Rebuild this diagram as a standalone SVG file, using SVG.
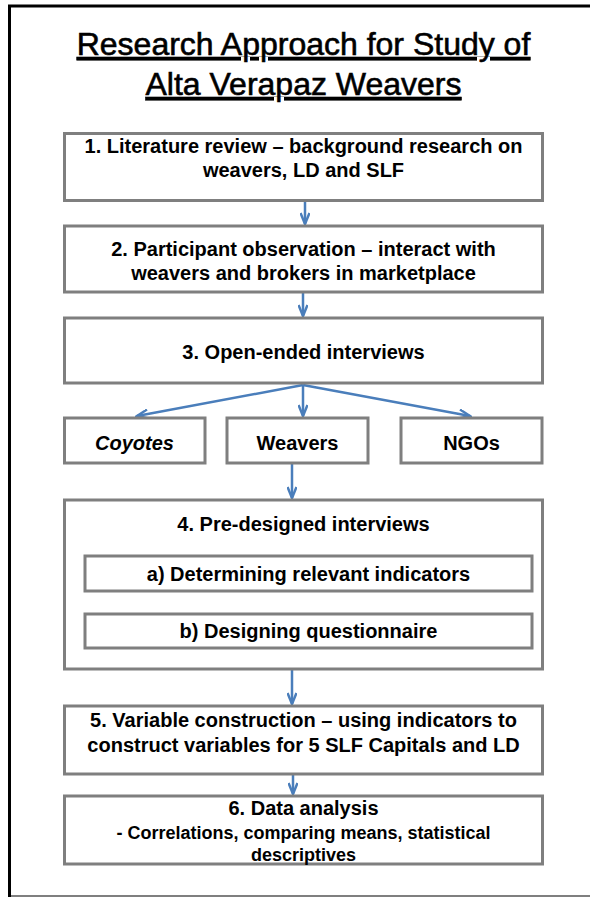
<svg xmlns="http://www.w3.org/2000/svg" width="590" height="897" viewBox="0 0 590 897">
<defs>
<style>
.box{fill:#fff;stroke:#7f7f7f;stroke-width:3}
.t{font-family:"Liberation Sans",Arial,sans-serif;font-weight:bold;font-size:20px;fill:#000;text-anchor:middle}
.s{font-size:18px}
.title{font-family:"Liberation Sans",Arial,sans-serif;font-size:32px;fill:#000;stroke:#000;stroke-width:0.6;text-anchor:middle;text-decoration:underline}
.c{fill:none;stroke:#4a7ebb;stroke-width:2.5}
</style>
<marker id="ah" viewBox="0 0 14 10" refX="12" refY="5" markerWidth="14" markerHeight="10" markerUnits="userSpaceOnUse" orient="auto">
<path d="M1,0.5 L12,5 L1,9.5" fill="none" stroke="#4a7ebb" stroke-width="2.5"/>
</marker>
</defs>
<rect x="0" y="0" width="590" height="897" fill="#fff"/>
<g id="frame">
<path d="M600,6 L9.5,6 L9.5,897" fill="none" stroke="#000" stroke-width="3"/>
<line x1="11" y1="896" x2="590" y2="896" stroke="#555" stroke-width="1.5"/>
</g>
<g id="title">
<text class="title" x="303.5" y="55">Research Approach for Study of</text>
<text class="title" x="303.5" y="95">Alta Verapaz Weavers</text>
</g>
<g id="connectors">
<line class="c" x1="305" y1="201" x2="305" y2="224" marker-end="url(#ah)"/>
<line class="c" x1="303" y1="293" x2="303" y2="316" marker-end="url(#ah)"/>
<line class="c" x1="303" y1="385" x2="137" y2="416" marker-end="url(#ah)"/>
<line class="c" x1="303" y1="385" x2="303" y2="416" marker-end="url(#ah)"/>
<line class="c" x1="303" y1="385" x2="470" y2="416" marker-end="url(#ah)"/>
<line class="c" x1="292" y1="464" x2="292" y2="498" marker-end="url(#ah)"/>
<line class="c" x1="292" y1="670" x2="292" y2="704" marker-end="url(#ah)"/>
<line class="c" x1="293" y1="775" x2="293" y2="794" marker-end="url(#ah)"/>
</g>
<g id="step1">
<rect class="box" x="64.5" y="133.5" width="478" height="67"/>
<text class="t" x="303.5" y="153">1. Literature review – background research on</text>
<text class="t" x="303.5" y="177">weavers, LD and SLF</text>
</g>
<g id="step2">
<rect class="box" x="64.5" y="226" width="478" height="66"/>
<text class="t" x="303.5" y="256">2. Participant observation – interact with</text>
<text class="t" x="303.5" y="280">weavers and brokers in marketplace</text>
</g>
<g id="step3">
<rect class="box" x="64.5" y="318" width="478" height="65"/>
<text class="t" x="303.5" y="359">3. Open-ended interviews</text>
</g>
<g id="coyotes">
<rect class="box" x="64.5" y="418" width="140.5" height="45"/>
<text class="t" x="134.5" y="450" font-style="italic">Coyotes</text>
</g>
<g id="weavers">
<rect class="box" x="227" y="418" width="141" height="45"/>
<text class="t" x="297.5" y="450">Weavers</text>
</g>
<g id="ngos">
<rect class="box" x="401" y="418" width="141" height="45"/>
<text class="t" x="471.5" y="450">NGOs</text>
</g>
<g id="step4">
<rect class="box" x="64.5" y="500" width="478" height="169"/>
<text class="t" x="303.5" y="531">4. Pre-designed interviews</text>
</g>
<g id="step4a">
<rect class="box" x="85" y="556" width="447" height="35"/>
<text class="t" x="308.5" y="581">a) Determining relevant indicators</text>
</g>
<g id="step4b">
<rect class="box" x="85" y="614" width="447" height="34"/>
<text class="t" x="308.5" y="638">b) Designing questionnaire</text>
</g>
<g id="step5">
<rect class="box" x="64.5" y="706" width="478" height="68"/>
<text class="t" x="303.5" y="727">5. Variable construction – using indicators to</text>
<text class="t" x="303.5" y="752">construct variables for 5 SLF Capitals and LD</text>
</g>
<g id="step6">
<rect class="box" x="64.5" y="796" width="478" height="68"/>
<text class="t" x="303.5" y="815">6. Data analysis</text>
<text class="t s" x="303.5" y="839">- Correlations, comparing means, statistical</text>
<text class="t s" x="303.5" y="861">descriptives</text>
</g>
</svg>
